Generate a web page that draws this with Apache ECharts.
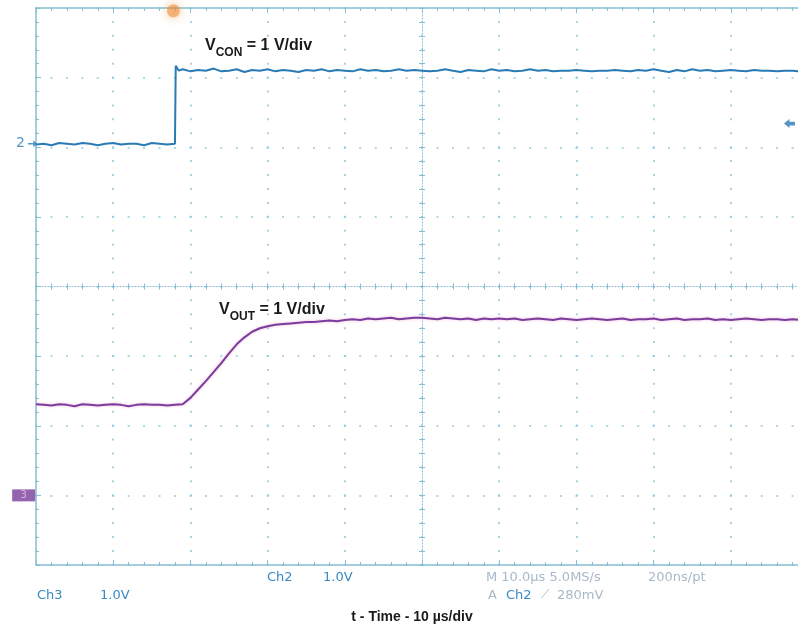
<!DOCTYPE html>
<html>
<head>
<meta charset="utf-8">
<script src="https://cdn.jsdelivr.net/npm/echarts@6/dist/echarts.min.js"></script>
<style>
html,body{margin:0;padding:0;background:#fff;}
#chart{width:798px;height:631px;}
</style>
</head>
<body>
<div id="chart"></div>
<script>
// ---- data (time in µs, level in screen divisions from bottom) ----
const vconT = [0,1,2,3,4,5,6,7,8,9,10,11,12,13,14,15,16,17,18,18.1,18.5,
  19,20,21,22,23,24,25,26,27,28,29,30,31,32,33,34,35,36,37,38,39,40,41,42,43,44,45,46,47,48,
  49,50,51,52,53,54,55,56,57,58,59,60,61,62,63,64,65,66,67,68,69,70,71,72,73,74,75,76,77,78,
  79,80,81,82,83,84,85,86,87,88,89,90,91,92,93,94,95,96,97,98,99];
const vconV = [6.04,6.05,6.03,6.06,6.05,6.04,6.06,6.05,6.03,6.05,6.06,6.04,6.05,6.05,6.03,6.06,6.05,6.04,6.05,7.17,7.10,
  7.12,7.09,7.11,7.10,7.13,7.09,7.10,7.12,7.08,7.11,
  7.10,7.12,7.09,7.11,7.10,7.08,7.11,7.10,7.12,7.09,
  7.11,7.10,7.09,7.12,7.10,7.11,7.09,7.10,7.12,7.10,
  7.11,7.10,7.09,7.10,7.12,7.10,7.08,7.11,7.10,7.09,
  7.12,7.10,7.11,7.09,7.10,7.12,7.10,7.11,7.09,7.10,
  7.10,7.11,7.10,7.09,7.10,7.10,7.11,7.10,7.09,7.11,
  7.10,7.12,7.10,7.08,7.11,7.09,7.12,7.10,7.11,7.09,
  7.10,7.11,7.10,7.09,7.11,7.10,7.10,7.09,7.10,7.10,7.09];
const voutT = [0,1,2,3,4,5,6,7,8,9,10,11,12,13,14,15,16,17,18,19,20,21,22,23,24,25,26,27,28,29,
  30,31,32,33,34,35,36,37,38,39,40,41,42,43,44,45,46,47,48,49,50,51,52,53,54,55,56,57,58,59,
  60,61,62,63,64,65,66,67,68,69,70,71,72,73,74,75,76,77,78,79,80,81,82,83,84,85,86,87,88,89,
  90,91,92,93,94,95,96,97,98,99];
const voutV = [2.31,2.30,2.29,2.31,2.30,2.28,2.31,2.30,2.29,2.30,2.31,2.30,2.28,2.30,2.31,2.30,2.30,2.29,2.30,
  2.31,2.40,2.52,2.64,2.77,2.90,3.04,3.17,3.27,3.35,3.40,
  3.43,3.45,3.46,3.47,3.48,3.49,3.49,3.50,3.51,3.50,3.52,
  3.53,3.52,3.54,3.53,3.54,3.55,3.53,3.54,3.55,3.55,
  3.54,3.53,3.55,3.54,3.53,3.54,3.52,3.54,3.53,3.54,
  3.53,3.54,3.52,3.53,3.54,3.53,3.52,3.54,3.53,3.52,
  3.53,3.54,3.53,3.52,3.53,3.54,3.52,3.53,3.53,3.54,
  3.52,3.53,3.54,3.52,3.53,3.53,3.54,3.52,3.53,3.52,
  3.53,3.54,3.53,3.52,3.53,3.53,3.52,3.53,3.52];
// channel markers: [time, level]
const ch2Ground = [-0.45, 6.05];
const ch3Ground = [-1.6, 1.0];
const trigPos = [17.8, 7.96];
const trigLevel = [97.6, 6.34];
const timeRange = [0, 100];
const levelRange = [0, 8];

const frameColor = '#86bfd3';
const gridDot = '#92c9df';
const blue = '#2a7ab6';
const purple = '#7b3d9b';

function frameAxis(extra) {
  return Object.assign({
    type: 'value', axisLabel: {show: false},
    axisLine: {show: true, onZero: false, lineStyle: {color: frameColor, width: 1.5}},
    axisTick: {show: true, inside: true, length: 5, lineStyle: {color: frameColor}},
    minorTick: {show: true, splitNumber: 5, length: 3, lineStyle: {color: frameColor}},
    splitLine: {show: false}
  }, extra);
}
function centerAxis(extra, inside) {
  return Object.assign({
    type: 'value', axisLabel: {show: false},
    axisLine: {show: inside, onZero: false, lineStyle: {color: frameColor, width: 1, type: [1, 2]}},
    axisTick: {show: true, inside: inside, length: 3, lineStyle: {color: frameColor}},
    minorTick: {show: true, splitNumber: 5, length: 3, lineStyle: {color: frameColor}},
    splitLine: {show: false}
  }, extra);
}

const xBase = {min: timeRange[0], max: timeRange[1], interval: 10};
const yBase = {min: levelRange[0], max: levelRange[1], interval: 1};

const scopeFont = '13px "DejaVu Sans"';
function scopeText(x, y, text, fill, font) {
  return {type: 'text', x: x, y: y, silent: true,
    style: {text: text, fill: fill, font: font || scopeFont, verticalAlign: 'top'}};
}

const chart = echarts.init(document.getElementById('chart'), null, {renderer: 'canvas'});
chart.setOption({
  animation: false,
  backgroundColor: '#ffffff',
  grid: {left: 36, top: 8, width: 772, height: 557, outerBoundsMode: 'none', containLabel: false},
  xAxis: [
    frameAxis(Object.assign({position: 'bottom',
      splitLine: {show: true, lineStyle: {color: gridDot, width: 1.6, type: [2, 11.92], dashOffset: 1}}}, xBase)),
    frameAxis(Object.assign({position: 'top'}, xBase)),
    centerAxis(Object.assign({position: 'bottom', offset: -278.5}, xBase), true),
    centerAxis(Object.assign({position: 'bottom', offset: -278.5}, xBase), false)
  ],
  yAxis: [
    frameAxis(Object.assign({position: 'left',
      splitLine: {show: true, lineStyle: {color: gridDot, width: 1.6, type: [2, 13.44], dashOffset: 1}}}, yBase)),
    centerAxis(Object.assign({position: 'left', offset: -386}, yBase), true),
    centerAxis(Object.assign({position: 'left', offset: -386}, yBase), false)
  ],
  series: [
    {
      name: 'VCON', type: 'line', symbol: 'none', xAxisIndex: 0, yAxisIndex: 0,
      data: vconT.map((t, i) => [t, vconV[i]]),
      lineStyle: {color: blue, width: 2}
    },
    {
      name: 'VOUT', type: 'line', symbol: 'none', xAxisIndex: 0, yAxisIndex: 0,
      data: voutT.map((t, i) => [t, voutV[i]]),
      lineStyle: {color: purple, width: 2, shadowColor: 'rgba(220,60,160,0.35)', shadowBlur: 3}
    },
    {
      name: 'ch2gnd', type: 'scatter', clip: false, silent: true,
      data: [ch2Ground], symbol: 'path://M0,4 L7,4 L7,0 L12,5 L7,10 L7,6 L0,6 Z', symbolSize: [9, 7],
      itemStyle: {color: blue},
      label: {show: true, position: 'left', distance: 3, formatter: '2', color: blue, fontSize: 14, fontFamily: 'DejaVu Sans'}
    },
    {
      name: 'ch3gnd', type: 'scatter', clip: false, silent: true,
      data: [ch3Ground], symbol: 'rect', symbolSize: [23, 12],
      itemStyle: {color: purple},
      label: {show: true, position: 'inside', formatter: '3', color: '#e7c6f2', fontSize: 10, fontFamily: 'DejaVu Sans'}
    },
    {
      name: 'trigpos', type: 'scatter', clip: false, silent: true,
      data: [trigPos], symbol: 'circle', symbolSize: 13,
      itemStyle: {color: 'rgba(238,140,50,0.7)', shadowColor: 'rgba(238,140,50,0.9)', shadowBlur: 10}
    },
    {
      name: 'triglevel', type: 'scatter', clip: false, silent: true,
      data: [trigLevel], symbol: 'path://M0,5 L6,0 L6,3 L12,3 L12,7 L6,7 L6,10 Z', symbolSize: [11, 9],
      itemStyle: {color: blue}
    }
  ],
  graphic: [
    {type: 'text', x: 205, y: 38, silent: true, style: {
      text: '{v|V}{s|CON}{v| = 1 V/div}', fill: '#1a1a1a',
      rich: {
        v: {fontSize: 16, fontWeight: 'bold', fontFamily: 'Liberation Sans', lineHeight: 21, verticalAlign: 'top', fill: '#1a1a1a'},
        s: {fontSize: 12, fontWeight: 'bold', fontFamily: 'Liberation Sans', lineHeight: 21, verticalAlign: 'bottom', fill: '#1a1a1a'}
      }}},
    {type: 'text', x: 219, y: 302, silent: true, style: {
      text: '{v|V}{s|OUT}{v| = 1 V/div}', fill: '#1a1a1a',
      rich: {
        v: {fontSize: 16, fontWeight: 'bold', fontFamily: 'Liberation Sans', lineHeight: 21, verticalAlign: 'top', fill: '#1a1a1a'},
        s: {fontSize: 12, fontWeight: 'bold', fontFamily: 'Liberation Sans', lineHeight: 21, verticalAlign: 'bottom', fill: '#1a1a1a'}
      }}},
    scopeText(37, 589, 'Ch3', '#3a8ac0'),
    scopeText(100, 589, '1.0V', '#3a8ac0'),
    scopeText(267, 571, 'Ch2', '#3a8ac0'),
    scopeText(323, 571, '1.0V', '#3a8ac0'),
    scopeText(486, 571, 'M 10.0µs 5.0MS/s', '#a9b8c8'),
    scopeText(648, 571, '200ns/pt', '#a9b8c8'),
    scopeText(488, 589, 'A', '#a9b8c8'),
    scopeText(506, 589, 'Ch2', '#3a8ac0'),
    scopeText(541, 589, '⟋', '#a9b8c8', '12px "DejaVu Sans"'),
    scopeText(557, 589, '280mV', '#a9b8c8'),
    {type: 'text', x: 412, y: 610, silent: true, style: {text: 't - Time - 10 µs/div', fill: '#1a1a1a',
      font: 'bold 14px "Liberation Sans"', align: 'center', verticalAlign: 'top'}}
  ]
});
</script>
</body>
</html>
